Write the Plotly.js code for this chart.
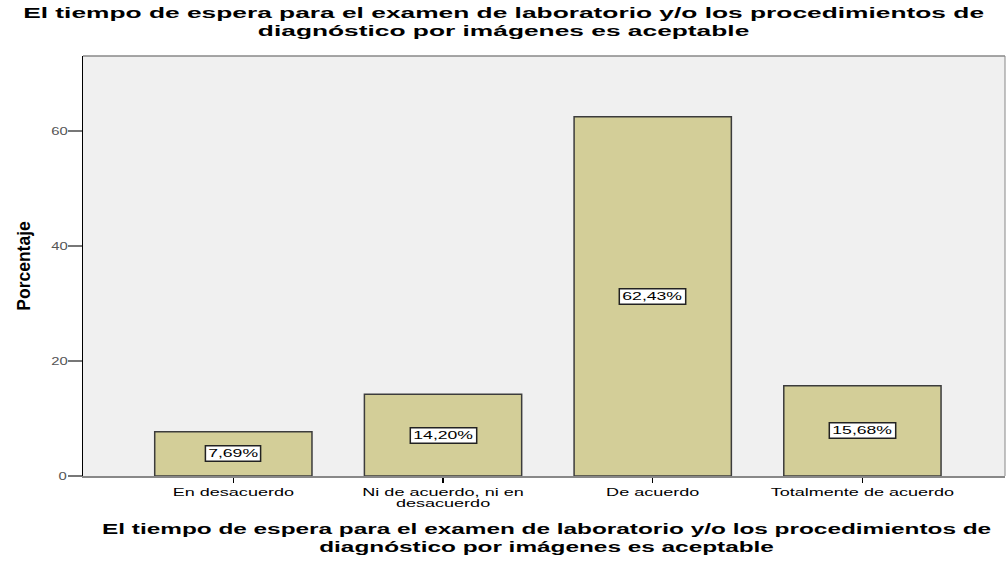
<!DOCTYPE html>
<html><head><meta charset="utf-8">
<script src="https://cdn.plot.ly/plotly-3.0.1.min.js"></script>
<style>
html,body{margin:0;padding:0;background:#fff}
#chart{width:1007px;height:561px}
.annotation text.annotation-text, .annotation rect.bg{
  transform-box: fill-box; transform-origin: center;
}
.annotation rect.bg{vector-effect: non-scaling-stroke}
.annotation[data-index="0"] text.annotation-text, .annotation[data-index="0"] rect.bg,
.annotation[data-index="1"] text.annotation-text, .annotation[data-index="1"] rect.bg,
.annotation[data-index="2"] text.annotation-text, .annotation[data-index="2"] rect.bg,
.annotation[data-index="3"] text.annotation-text, .annotation[data-index="3"] rect.bg{transform: scaleX(1.6)}
.annotation[data-index="4"] text.annotation-text{transform: scaleX(1.88)}
.annotation[data-index="5"] text.annotation-text{transform: scaleX(1.74)}
</style>
</head><body><div id="chart"></div>
<script>
const categories = ["En desacuerdo", "Ni de acuerdo, ni en<br>desacuerdo", "De acuerdo", "Totalmente de acuerdo"];
const values = [7.69, 14.20, 62.43, 15.68];
const valueLabels = ["7,69%", "14,20%", "62,43%", "15,68%"];
const yTicks = [0, 20, 40, 60];
const titleText = "El tiempo de espera para el examen de laboratorio y/o los procedimientos de<br>diagnóstico por imágenes es aceptable";

const xIdx = categories.map((c, i) => i);
const FONT = "Liberation Sans, Arial, sans-serif";

const trace = {
  type: "bar",
  x: xIdx,
  y: values,
  width: 0.75,
  marker: {color: "#d3ce98", line: {color: "#3c3c3c", width: 1.5}},
  hoverinfo: "none"
};

const annotations = values.map((v, i) => ({
  x: i, y: v / 2, xref: "x", yref: "y",
  text: valueLabels[i], showarrow: false,
  bgcolor: "#ffffff", bordercolor: "#222222", borderwidth: 1.5, borderpad: 1,
  font: {family: FONT, size: 11, color: "#000"}
}));
annotations.push({
  xref: "paper", yref: "paper", x: 0.4566, y: 1.0798, yanchor: "middle", xanchor: "center",
  text: "<b>" + titleText + "</b>", showarrow: false,
  font: {family: FONT, size: 14, color: "#000"}
});
annotations.push({
  xref: "paper", yref: "paper", x: 0.503, y: -0.1488, yanchor: "middle", xanchor: "center",
  text: "<b>" + titleText + "</b>", showarrow: false,
  font: {family: FONT, size: 14, color: "#000"}
});

const layout = {
  width: 1007, height: 561,
  margin: {l: 83, r: 2, t: 56, b: 85},
  paper_bgcolor: "#ffffff",
  plot_bgcolor: "#f0f0f0",
  showlegend: false,
  xaxis: {
    tickmode: "array", tickvals: xIdx, ticktext: categories,
    range: [-0.717, 3.68],
    showgrid: false, zeroline: false,
    showline: true, linecolor: "#888", linewidth: 1.5, mirror: false,
    ticks: "outside", ticklen: 5, tickcolor: "#000", tickwidth: 1.5,
    tickfont: {family: FONT, size: 11, color: "#000"}
  },
  yaxis: {
    range: [0, 73],
    tickmode: "array", tickvals: yTicks, ticktext: yTicks.map(String),
    showgrid: false, zeroline: false,
    showline: true, linecolor: "#000", linewidth: 1.2,
    ticks: "outside", ticklen: 14, tickcolor: "#777", tickwidth: 1.5,
    tickfont: {family: FONT, size: 11, color: "#555"},
    title: {text: "<b>Porcentaje</b>", standoff: 18,
      font: {family: "Liberation Sans Narrow, Arial Narrow, Liberation Sans, sans-serif", size: 17.5, color: "#000"}}
  },
  shapes: [
    {type: "line", xref: "paper", yref: "paper", x0: 0, x1: 1, y0: 1, y1: 1, line: {color: "#888", width: 1.5}},
    {type: "line", xref: "paper", yref: "paper", x0: 1, x1: 1, y0: 0, y1: 1, line: {color: "#888", width: 1}}
  ],
  annotations: annotations
};

function stretch(selector, s) {
  document.querySelectorAll(selector).forEach(t => {
    const b = t.getBBox();
    const cx = b.x + b.width / 2;
    const T = t.getAttribute("transform") || "";
    t.setAttribute("transform", T + " translate(" + cx + ",0) scale(" + s + ",1) translate(" + (-cx) + ",0)");
  });
}

Plotly.newPlot("chart", [trace], layout, {displayModeBar: false, staticPlot: true}).then(() => {
  document.querySelectorAll("#chart .xtick text tspan.line").forEach((sp, i) => {
    if (sp.getAttribute("dy") && parseFloat(sp.getAttribute("dy")) > 0) sp.setAttribute("dy", "1.0em");
  });
  stretch("#chart .xtick text", 1.64);
  stretch("#chart .ytick text", 1.35);
});
</script>
</body></html>
